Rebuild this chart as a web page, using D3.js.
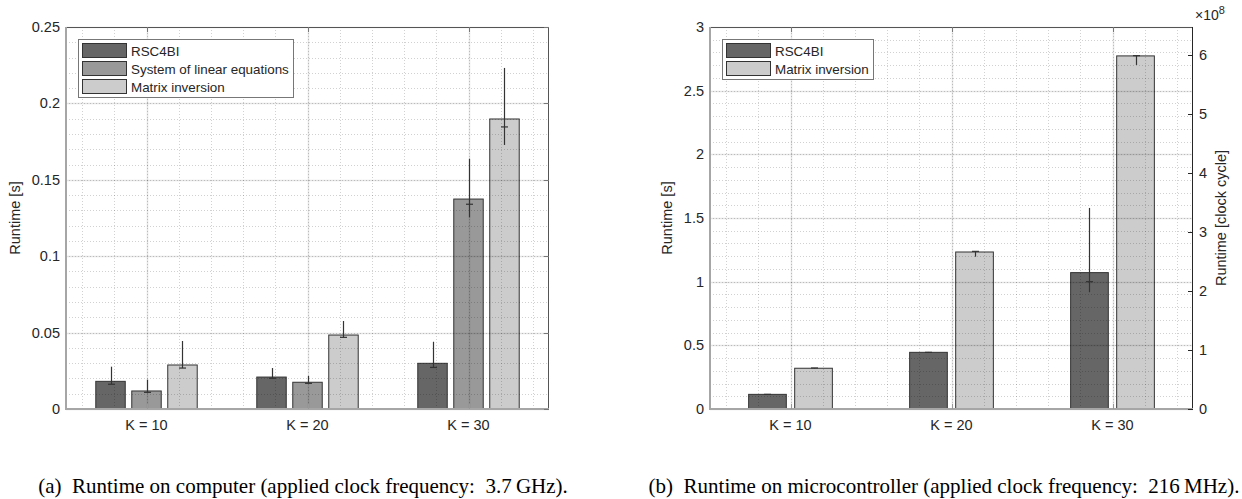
<!DOCTYPE html>
<html>
<head>
<meta charset="utf-8">
<script src="https://cdnjs.cloudflare.com/ajax/libs/d3/7.8.5/d3.min.js"></script>
<style>
  body { margin: 0; background: #fff; }
  svg { display: block; }
  text { font-family: "Liberation Sans", Arial, sans-serif; fill: #262626; }
  .caption { font-family: "Liberation Serif", "Times New Roman", serif; fill: #000; white-space: pre; }
</style>
</head>
<body>
<svg width="1242" height="499"></svg>
<script>
// categories shared by both panels
const categories = ['K = 10', 'K = 20', 'K = 30']

// (a) computer, runtime in seconds
const pcNames = ['RSC4BI', 'System of linear equations', 'Matrix inversion']
const pcRsc = [0.0181, 0.0209, 0.0299]
const pcLin = [0.0118, 0.0175, 0.1374]
const pcInv = [0.0288, 0.0484, 0.1898]
// error bars: low, high, tick mark
const pcRscLo = [0.0162, 0.0201, 0.0272]
const pcRscHi = [0.0277, 0.0268, 0.0440]
const pcRscTick = [0.0162, 0.0201, 0.0272]
const pcLinLo = [0.0109, 0.0168, 0.1254]
const pcLinHi = [0.0192, 0.0216, 0.1638]
const pcLinTick = [0.0109, 0.0168, 0.1340]
const pcInvLo = [0.0268, 0.0469, 0.1728]
const pcInvHi = [0.0445, 0.0576, 0.2232]
const pcInvTick = [0.0268, 0.0469, 0.1846]
const pcTicks = [0, 0.05, 0.1, 0.15, 0.2, 0.25]

// (b) microcontroller, runtime in seconds (216 MHz)
const mcNames = ['RSC4BI', 'Matrix inversion']
const mcRsc = [0.115, 0.445, 1.071]
const mcInv = [0.320, 1.233, 2.773]
const mcRscLo = [0.112, 0.442, 0.917]
const mcRscHi = [0.118, 0.448, 1.579]
const mcRscTick = [0.115, 0.445, 1.000]
const mcInvLo = [0.318, 1.196, 2.702]
const mcInvHi = [0.322, 1.238, 2.775]
const mcInvTick = [0.322, 1.238, 2.775]
const mcTicks = [0, 0.5, 1, 1.5, 2, 2.5, 3]
const clockHz = 216e6
const cycleTicks = [0, 1, 2, 3, 4, 5, 6] // x 10^8

const fills = ['#666666', '#999999', '#cccccc']

const svg = d3.select('svg')

function drawPanel (opt) {
  const g = svg.append('g')
  const x = d3.scaleLinear().domain([0.5, 3.5]).range([opt.left, opt.right])
  const y = d3.scaleLinear().domain([0, opt.ymax]).range([opt.bottom, opt.top])

  g.append('rect')
    .attr('x', opt.left).attr('y', opt.top)
    .attr('width', opt.right - opt.left).attr('height', opt.bottom - opt.top)
    .attr('fill', '#fff')

  // bars
  opt.series.forEach((s, si) => {
    const off = opt.offsets[si]
    g.selectAll(null).data(s.values).enter().append('rect')
      .attr('x', (d, i) => x(i + 1 + off - opt.barW / 2))
      .attr('y', d => y(d))
      .attr('width', x(opt.barW) - x(0))
      .attr('height', d => y(0) - y(d))
      .attr('fill', s.fill)
      .attr('stroke', '#333')
      .attr('stroke-width', 1)
  })

  // grid drawn on top (layer top)
  const minorY = d3.range(0, opt.ymax + 1e-9, opt.minorStep)
  const minorX = d3.range(0.6, 3.41, 0.2)
  g.append('g').selectAll('line').data(minorY).enter().append('line')
    .attr('x1', opt.left).attr('x2', opt.right)
    .attr('y1', d => Math.round(y(d)) + 0.5).attr('y2', d => Math.round(y(d)) + 0.5)
    .attr('stroke', 'rgba(0,0,0,0.18)').attr('stroke-dasharray', '1,2')
  g.append('g').selectAll('line').data(minorX).enter().append('line')
    .attr('y1', opt.top).attr('y2', opt.bottom)
    .attr('x1', d => Math.round(x(d)) + 0.5).attr('x2', d => Math.round(x(d)) + 0.5)
    .attr('stroke', 'rgba(0,0,0,0.18)').attr('stroke-dasharray', '1,2')
  g.append('g').selectAll('line').data(opt.yticks).enter().append('line')
    .attr('x1', opt.left).attr('x2', opt.right)
    .attr('y1', d => Math.round(y(d)) + 0.5).attr('y2', d => Math.round(y(d)) + 0.5)
    .attr('stroke', 'rgba(0,0,0,0.1)').attr('stroke-width', 1.5)
  g.append('g').selectAll('line').data([1, 2, 3]).enter().append('line')
    .attr('y1', opt.top).attr('y2', opt.bottom)
    .attr('x1', d => Math.round(x(d)) + 0.5).attr('x2', d => Math.round(x(d)) + 0.5)
    .attr('stroke', 'rgba(0,0,0,0.1)').attr('stroke-width', 1.5)

  // error bars
  opt.series.forEach((s, si) => {
    const off = opt.offsets[si]
    const eg = g.append('g')
    s.values.forEach((v, i) => {
      const cx = Math.round(x(i + 1 + off)) + 0.5
      eg.append('line')
        .attr('x1', cx).attr('x2', cx)
        .attr('y1', y(s.lo[i])).attr('y2', y(s.hi[i]))
        .attr('stroke', '#333').attr('stroke-width', 1.2)
      eg.append('line')
        .attr('x1', cx - 3.5).attr('x2', cx + 3.5)
        .attr('y1', y(s.tick[i])).attr('y2', y(s.tick[i]))
        .attr('stroke', '#333').attr('stroke-width', 1.2)
    })
  })

  // axes box
  const ax = g.append('g')
  ax.append('line').attr('x1', opt.left).attr('x2', opt.right)
    .attr('y1', opt.top + 0.5).attr('y2', opt.top + 0.5).attr('stroke', '#555')
  ax.append('line').attr('x1', opt.right - 0.5).attr('x2', opt.right - 0.5)
    .attr('y1', opt.top).attr('y2', opt.bottom)
    .attr('stroke', opt.rightAxis ? '#262626' : '#555')
  ax.append('line').attr('x1', opt.left).attr('x2', opt.right)
    .attr('y1', opt.bottom).attr('y2', opt.bottom).attr('stroke', '#a6a6a6').attr('stroke-width', 2)
  ax.append('line').attr('x1', opt.left).attr('x2', opt.left)
    .attr('y1', opt.top).attr('y2', opt.bottom + 1).attr('stroke', '#a6a6a6').attr('stroke-width', 2)

  // x ticks (inward, bottom and top)
  ;[1, 2, 3].forEach(d => {
    const px = Math.round(x(d)) + 0.5
    ax.append('line').attr('x1', px).attr('x2', px)
      .attr('y1', opt.bottom).attr('y2', opt.bottom - 5).attr('stroke', '#999')
    ax.append('line').attr('x1', px).attr('x2', px)
      .attr('y1', opt.top).attr('y2', opt.top + 5).attr('stroke', '#777')
  })
  g.selectAll(null).data(categories).enter().append('text')
    .attr('x', (d, i) => x(i + 1)).attr('y', opt.bottom + 21)
    .attr('text-anchor', 'middle').attr('font-size', 14.5).text(d => d)

  // left y ticks
  g.selectAll(null).data(opt.yticks).enter().append('text')
    .attr('x', opt.left - 6).attr('y', d => y(d) + 5)
    .attr('text-anchor', 'end').attr('font-size', 14.5)
    .text(d => d3.format('~g')(d))
  if (!opt.rightAxis) {
    opt.yticks.forEach(d => {
      ax.append('line').attr('x1', opt.right).attr('x2', opt.right - 5)
        .attr('y1', Math.round(y(d)) + 0.5).attr('y2', Math.round(y(d)) + 0.5).attr('stroke', '#777')
    })
  }
  g.append('text')
    .attr('transform', 'translate(' + opt.ylabelX + ',' + (opt.top + opt.bottom) / 2 + ') rotate(-90)')
    .attr('text-anchor', 'middle').attr('font-size', 14.5).text('Runtime [s]')

  // secondary axis in clock cycles
  if (opt.rightAxis) {
    const y2 = d3.scaleLinear().domain([0, opt.ymax * clockHz / 1e8]).range([opt.bottom, opt.top])
    opt.rightAxis.forEach(d => {
      const py = Math.round(y2(d)) + 0.5
      ax.append('line').attr('x1', opt.right).attr('x2', opt.right - 5)
        .attr('y1', py).attr('y2', py).attr('stroke', '#262626')
      g.append('text').attr('x', opt.right + 6).attr('y', y2(d) + 5)
        .attr('font-size', 14.5).text(d)
    })
    const ex = g.append('text').attr('x', opt.right + 2).attr('y', opt.top - 7).attr('font-size', 14)
    ex.append('tspan').text('\u00d710')
    ex.append('tspan').attr('dy', -6).attr('font-size', 11).text('8')
    g.append('text')
      .attr('transform', 'translate(' + (opt.right + 33) + ',' + (opt.top + opt.bottom) / 2 + ') rotate(-90)')
      .attr('text-anchor', 'middle').attr('font-size', 14.5).text('Runtime [clock cycle]')
  }

  // legend
  const lg = g.append('g')
  lg.append('rect')
    .attr('x', opt.legend.x + 0.5).attr('y', opt.legend.y + 0.5)
    .attr('width', opt.legend.w).attr('height', opt.series.length * 18 + 4)
    .attr('fill', '#fff').attr('stroke', '#777')
  opt.series.forEach((s, si) => {
    lg.append('rect')
      .attr('x', opt.legend.x + 4.5).attr('y', opt.legend.y + 4.5 + si * 18)
      .attr('width', 44).attr('height', 14)
      .attr('fill', s.fill).attr('stroke', '#333')
    lg.append('text')
      .attr('x', opt.legend.x + 53).attr('y', opt.legend.y + 17 + si * 18)
      .attr('font-size', 13.4).text(s.name)
  })

  svg.append('text').attr('class', 'caption')
    .attr('x', opt.captionX).attr('y', 493)
    .attr('text-anchor', 'middle').attr('font-size', 21).text(opt.caption)
}

drawPanel({
  left: 66, right: 549, top: 27, bottom: 409, ymax: 0.25,
  yticks: pcTicks, minorStep: 0.01, ylabelX: 20,
  barW: 0.183, offsets: [-0.2235, 0, 0.2235],
  series: [
    { name: pcNames[0], values: pcRsc, lo: pcRscLo, hi: pcRscHi, tick: pcRscTick, fill: fills[0] },
    { name: pcNames[1], values: pcLin, lo: pcLinLo, hi: pcLinHi, tick: pcLinTick, fill: fills[1] },
    { name: pcNames[2], values: pcInv, lo: pcInvLo, hi: pcInvHi, tick: pcInvTick, fill: fills[2] }
  ],
  legend: { x: 78, y: 39, w: 215 },
  caption: '(a)  Runtime on computer (applied clock frequency:  3.7\u2009GHz).',
  captionX: 303
})

drawPanel({
  left: 710, right: 1193, top: 27, bottom: 409, ymax: 3,
  yticks: mcTicks, minorStep: 0.1, ylabelX: 672,
  barW: 0.234, offsets: [-0.143, 0.143],
  series: [
    { name: mcNames[0], values: mcRsc, lo: mcRscLo, hi: mcRscHi, tick: mcRscTick, fill: fills[0] },
    { name: mcNames[1], values: mcInv, lo: mcInvLo, hi: mcInvHi, tick: mcInvTick, fill: fills[2] }
  ],
  rightAxis: cycleTicks,
  legend: { x: 722, y: 39, w: 151 },
  caption: '(b)  Runtime on microcontroller (applied clock frequency:  216\u2009MHz).',
  captionX: 944
})
</script>
</body>
</html>
